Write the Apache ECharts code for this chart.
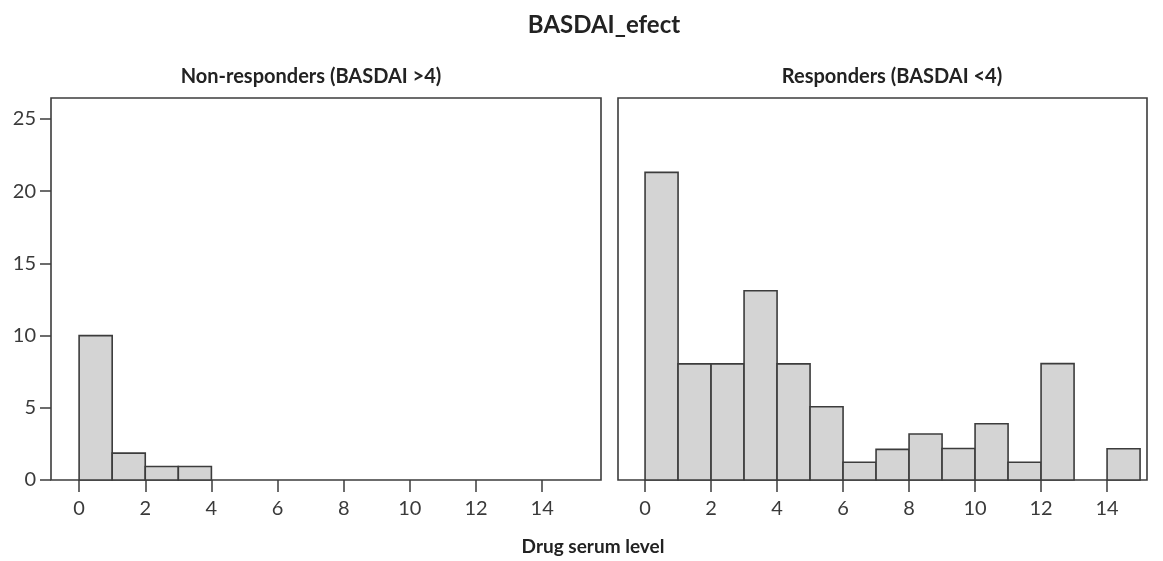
<!DOCTYPE html>
<html>
<head>
<meta charset="utf-8">
<script src="https://cdn.jsdelivr.net/npm/echarts@6/dist/echarts.min.js"></script>
<style>
  html, body { margin: 0; padding: 0; background: #fff; }
  #main { width: 1163px; height: 561px; }
</style>
</head>
<body>
<div id="main"></div>
<script>
// histogram bins (drug serum level), width 1
var binStarts = [0, 1, 2, 3, 4, 5, 6, 7, 8, 9, 10, 11, 12, 13, 14];
var binWidth = 1;
// counts
var nonResponders = [10, 1.86, 0.93, 0.93, 0, 0, 0, 0, 0, 0, 0, 0, 0, 0, 0];
var responders = [21.3, 8.04, 8.04, 13.1, 8.04, 5.07, 1.23, 2.12, 3.19, 2.18, 3.89, 1.23, 8.06, 0, 2.16];
var xTicks = [0, 2, 4, 6, 8, 10, 12, 14];
var yTicks = [0, 5, 10, 15, 20, 25];

var chart = echarts.init(document.getElementById('main'));

var textColor = '#3a3a3a';
var lineColor = '#3c3c3c';
var fontFam = 'Lato, "Open Sans", sans-serif';

function toBins(counts) {
    var res = [];
    for (var i = 0; i < binStarts.length; i++) {
        res.push([binStarts[i], binStarts[i] + binWidth, counts[i]]);
    }
    return res;
}

function renderBar(params, api) {
    var v = api.value(2);
    if (!v) return null;
    var p0 = api.coord([api.value(0), 0]);
    var p1 = api.coord([api.value(1), v]);
    return {
        type: 'rect',
        shape: { x: p0[0], y: p1[1], width: p1[0] - p0[0], height: p0[1] - p1[1] },
        style: { fill: '#d4d4d4', stroke: lineColor, lineWidth: 1.6 }
    };
}

function xAxis(idx, min, max) {
    return {
        type: 'value',
        gridIndex: idx,
        min: min,
        max: max,
        splitLine: { show: false },
        axisLine: { show: false, onZero: false },
        axisTick: { show: true, length: 12, customValues: xTicks, lineStyle: { color: lineColor, width: 1.5 } },
        axisLabel: {
            customValues: xTicks, margin: 19,
            color: textColor, fontSize: 20, fontFamily: fontFam
        }
    };
}

function titleText(text, x, y, size) {
    return {
        text: text, left: x, top: y, textAlign: 'center', padding: 0,
        textStyle: { fontSize: size, fontWeight: 'bold', color: '#222', fontFamily: fontFam }
    };
}

var option = {
    animation: false,
    backgroundColor: '#fff',
    title: [
        titleText('BASDAI_efect', 604, 13, 24),
        titleText('Non-responders (BASDAI >4)', 311, 67, 20),
        titleText('Responders (BASDAI <4)', 892, 67, 20),
        titleText('Drug serum level', 593, 537, 19)
    ],
    grid: [
        { left: 51, top: 98, width: 550, height: 382, show: true, borderColor: lineColor, borderWidth: 1.6, backgroundColor: '#fff' },
        { left: 618, top: 98, width: 529, height: 382, show: true, borderColor: lineColor, borderWidth: 1.6, backgroundColor: '#fff' }
    ],
    xAxis: [
        xAxis(0, -0.85, 15.78),
        xAxis(1, -0.82, 15.21)
    ],
    yAxis: [
        {
            type: 'value', gridIndex: 0, min: 0, max: 26.45,
            splitLine: { show: false },
            axisLine: { show: false, onZero: false },
            axisTick: { show: true, length: 11, customValues: yTicks, lineStyle: { color: lineColor, width: 1.5 } },
            axisLabel: { customValues: yTicks, margin: 15, color: textColor, fontSize: 20, fontFamily: fontFam }
        },
        {
            type: 'value', gridIndex: 1, min: 0, max: 26.45,
            splitLine: { show: false },
            axisLine: { show: false, onZero: false },
            axisTick: { show: false },
            axisLabel: { show: false }
        }
    ],
    series: [
        { type: 'custom', xAxisIndex: 0, yAxisIndex: 0, renderItem: renderBar, data: toBins(nonResponders) },
        { type: 'custom', xAxisIndex: 1, yAxisIndex: 1, renderItem: renderBar, data: toBins(responders) }
    ]
};

chart.setOption(option);
</script>
</body>
</html>
